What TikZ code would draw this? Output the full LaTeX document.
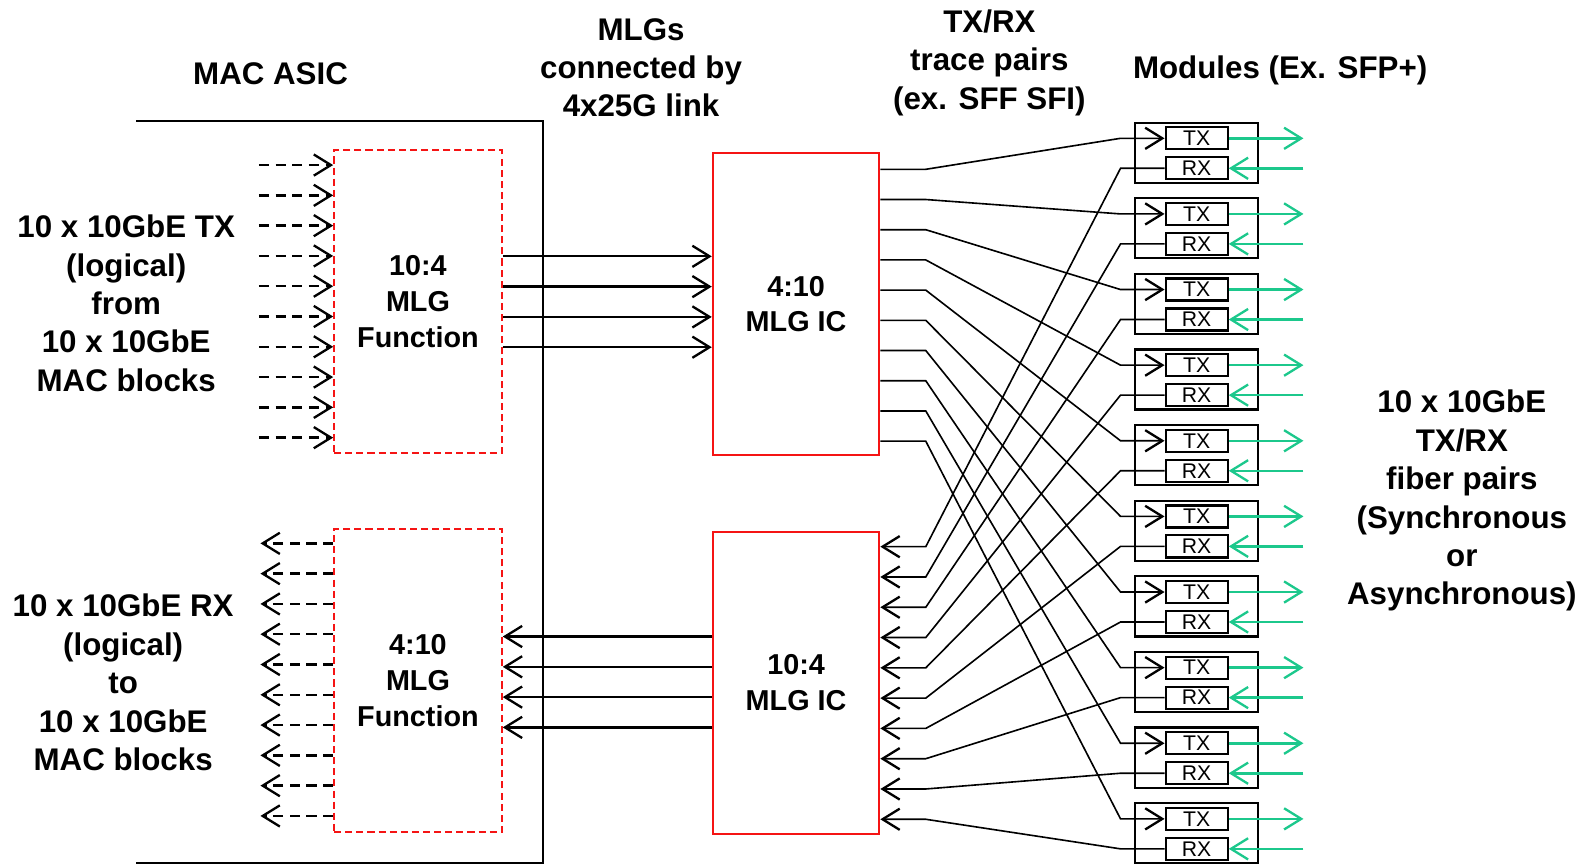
\documentclass[tikz,border=0pt]{standalone}
\usepackage{fontspec}
\setmainfont{Liberation Sans}
\usetikzlibrary{arrows.meta}
\definecolor{fibregreen}{RGB}{28,200,140}
\definecolor{mlgred}{RGB}{245,20,20}
\begin{document}
\begin{tikzpicture}[x=1pt,y=-1pt,
  heading/.style={font={\fontsize{31}{38}\selectfont\bfseries},align=center,inner sep=0pt},
  inlabel/.style={font={\fontsize{28.5}{35.5}\selectfont\bfseries},align=center},
  chev/.style={-{Straight Barb[length=17pt,width=21pt,line width=2.3pt]}},
  asic/.style={line width=2.2pt},
  mlgfn/.style={draw=mlgred,dash pattern=on 7pt off 4pt,line width=2pt,
    minimum width=166pt,minimum height=300pt,inner sep=0pt,inlabel},
  mlgic/.style={draw=mlgred,line width=2pt,minimum width=165pt,
    minimum height=299.5pt,inner sep=0pt,inlabel},
  logical/.style={line width=2.5pt,dash pattern=on 10pt off 6.5pt,chev},
  link/.style={line width=2.3pt,chev},
  trace/.style={line width=1.6pt,chev},
  module/.style={draw,line width=2.2pt,minimum width=121.5pt,
    minimum height=59.5pt,inner sep=0pt},
  port/.style={draw,line width=2.2pt,minimum width=61.4pt,minimum height=21.8pt,
    inner sep=0pt,font={\fontsize{21}{24}\selectfont}},
  fibre/.style={draw=fibregreen,line width=2.5pt,chev},
]
\useasboundingbox (0,0) rectangle (1568,857);

% headings and side labels
\node[heading] (asiclbl) at (268,73) {MAC ASIC};
\node[heading] (linklbl) at (635,67) {MLGs\\connected by\\4x25G link};
\node[heading] (tracelbl) at (980,62) {TX/RX\\trace pairs\\(ex. SFF SFI)};
\node[heading] (modlbl) at (1268,69.5) {Modules (Ex. SFP+)};
\node[heading] (txlbl) at (125,300.5) {10 x 10GbE TX\\(logical)\\from\\10 x 10GbE\\MAC blocks};
\node[heading] (rxlbl) at (122,676) {10 x 10GbE RX\\(logical)\\to\\10 x 10GbE\\MAC blocks};
\node[heading] (fiblbl) at (1448,496) {10 x 10GbE\\TX/RX\\fiber pairs\\(Synchronous\\or\\Asynchronous)};

% MAC ASIC outline
\draw[asic] (135,120) -- (538.2,120) -- (538.2,855) -- (135,855);

% MLG functions inside the ASIC and the MLG ICs
\node[mlgfn] (mlgtx) at (414,299) {10:4\\MLG\\Function};
\node[mlgfn] (mlgrx) at (414,674) {4:10\\MLG\\Function};
\node[mlgic] (icA) at (788.5,301.2) {4:10\\MLG IC};
\node[mlgic] (icB) at (788.5,676.4) {10:4\\MLG IC};

% logical 10GbE lanes
\foreach \k in {1,...,10}{
  \pgfmathsetmacro{\ly}{163.5+30*(\k-1)}
  \coordinate (lin\k) at (256.5,\ly);
  \draw[logical] (lin\k) -- (lin\k -| mlgtx.west);
  \pgfmathsetmacro{\ry}{538.2+30*(\k-1)}
  \coordinate (lout\k) at (258,\ry);
  \draw[logical] (lout\k -| mlgrx.west) -- (lout\k);
}

% 4x25G links between the MLG functions and the MLG ICs
\foreach \j in {0,...,3}{
  \pgfmathsetmacro{\ty}{253.9+30*\j}
  \coordinate (lt\j) at (0,\ty);
  \draw[link] (mlgtx.east |- lt\j) -- (icA.west |- lt\j);
  \pgfmathsetmacro{\by}{630.5+30*\j}
  \coordinate (lb\j) at (0,\by);
  \draw[link] (icB.west |- lb\j) -- (mlgrx.east |- lb\j);
}

% optical modules
\foreach \k in {1,...,10}{
  \pgfmathsetmacro{\mt}{121.5+74.9*(\k-1)}
  \node[module] (mod\k) at (1185.25,\mt+29.75) {};
  \node[port] (tx\k) at (1185.3,\mt+15.5) {TX};
  \node[port] (rx\k) at (1185.3,\mt+45.2) {RX};
  \coordinate (fo\k) at ([xshift=74pt]tx\k.east);
  \coordinate (fi\k) at ([xshift=74pt]rx\k.east);
  \draw[fibre] (tx\k.east) -- (fo\k);
  \draw[fibre] (fi\k) -- (rx\k.east);
}

% TX/RX trace pairs
\foreach \k in {1,...,10}{
  \pgfmathsetmacro{\oy}{167.7+29.92*(\k-1)}
  \pgfmathsetmacro{\iy}{541.5+30*(\k-1)}
  \coordinate (oyk\k) at (0,\oy);
  \coordinate (iyk\k) at (0,\iy);
  \coordinate (to\k) at (icA.east |- oyk\k);
  \coordinate (ti\k) at (icB.east |- iyk\k);
  \draw[trace] (to\k) -- ([xshift=45pt]to\k) -- ([xshift=-43.6pt]tx\k.west) -- (tx\k.west);
  \draw[trace] (rx\k.west) -- ([xshift=-43.6pt]rx\k.west) -- ([xshift=45pt]ti\k) -- (ti\k);
}
\end{tikzpicture}
\end{document}
